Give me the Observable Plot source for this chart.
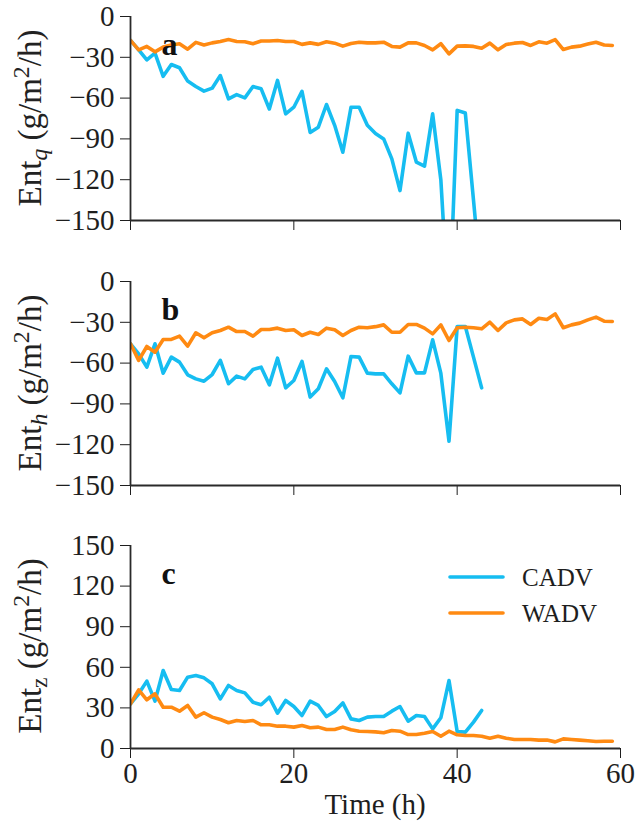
<!DOCTYPE html>
<html>
<head>
<meta charset="utf-8">
<script src="https://cdn.jsdelivr.net/npm/d3@7"></script>
<script src="https://cdn.jsdelivr.net/npm/@observablehq/plot@0.6"></script>
<style>
  html, body { margin: 0; padding: 0; background: #fff; }
  #chart { width: 638px; font-family: "Liberation Serif", "Times New Roman", serif; color: #222; }
  #chart svg, #chart svg text, #chart svg g { font-family: "Liberation Serif", "Times New Roman", serif !important; }
  .panel { position: relative; }
  .ylab { position: absolute; white-space: nowrap; font-size: 33px; line-height: 1;
          transform: translate(-50%, -50%) rotate(-90deg); }
  .ylab sub { font-size: 0.72em; vertical-align: -0.25em; }
  .ylab sup { font-size: 0.72em; vertical-align: 0.5em; }
  svg { display: block; }
</style>
</head>
<body>
<div id="chart"></div>
<script>
// ---------- data ----------
const hoursCADV = [0,1,2,3,4,5,6,7,8,9,10,11,12,13,14,15,16,17,18,19,20,21,22,23,24,25,26,27,28,29,30,31,32,33,34,35,36,37,38,39,40,41,42,43];
const hoursWADV = [0,1,2,3,4,5,6,7,8,9,10,11,12,13,14,15,16,17,18,19,20,21,22,23,24,25,26,27,28,29,30,31,32,33,34,35,36,37,38,39,40,41,42,43,44,45,46,47,48,49,50,51,52,53,54,55,56,57,58,59];

// Panel a: Ent_q
const entqCADV = [-17.6,-24.5,-31.9,-27,-44,-35.3,-37.7,-47.5,-51.5,-54.9,-52.7,-43.4,-60.5,-57.4,-59.8,-51.5,-53.2,-68,-47,-71.6,-66.7,-55,-85.3,-81.4,-64.7,-80,-99.8,-66.7,-66.7,-80,-86,-90,-104.7,-128,-85.8,-107,-110,-71.6,-120,-222,-69,-71,-135,-200];
const entqWADV = [-17.6,-24.5,-22,-26,-22.5,-21,-20,-24,-19,-21,-19.4,-18.4,-17,-18.4,-18.6,-20,-18,-18,-17.6,-18.4,-18.4,-20.5,-19.4,-20.5,-18.6,-19.6,-21.8,-19.9,-18.9,-19.4,-19.4,-18.9,-22,-22.5,-19.4,-19.4,-21.3,-24.5,-20,-27.5,-21.8,-21.6,-22,-23.3,-19.6,-24.5,-20.6,-19.6,-19.1,-21.3,-18.6,-19.6,-17,-24.3,-22.5,-21.8,-20.3,-18.9,-21,-21.3];

// Panel b: Ent_h
const enthCADV = [-45.8,-53.2,-63,-45.8,-67.4,-55.6,-59.3,-68.6,-71.6,-73.3,-68.4,-58,-75.2,-69.6,-71.6,-64.7,-63,-76,-56.4,-78.2,-72.8,-58.8,-85,-78.9,-64.2,-73.5,-85.5,-55.1,-55.6,-67.4,-67.9,-67.9,-75.2,-81.9,-54.9,-67.2,-67.2,-42.9,-67.4,-117.4,-33.1,-33.1,-55.6,-78.2];
const enthWADV = [-45.8,-58,-47.8,-52,-42.6,-42.6,-40.2,-47.5,-37.7,-41.4,-37.7,-36,-33.6,-36.8,-36.8,-40.2,-35.3,-35.3,-34.3,-36,-35.5,-39.7,-37.3,-39,-34.3,-35.5,-39.7,-36,-33.6,-34,-33.2,-31.9,-37.3,-37.3,-31.6,-31.6,-34.3,-38.5,-31.9,-43.4,-34,-33.6,-34,-34.8,-29.9,-36,-30.4,-28.2,-27.5,-31.6,-27,-27.9,-23.8,-34,-31.9,-30.6,-28.2,-26.2,-29.2,-29.4];

// Panel c: Ent_z
const entzCADV = [33,40.4,49.8,35,57.6,43.6,42.9,52.7,53.9,52.2,47.8,36.7,46.6,42.9,41.1,34.2,32.3,37.9,26.1,35.5,31,24.4,35,31.8,23.6,27.3,33.7,21.9,20.7,23.2,23.6,23.6,27.6,31,20.2,24.4,23.6,14.5,22.7,50.2,12.6,12.1,19.5,28.1];
const entzWADV = [33,43.3,36,40.4,30.5,30.5,27.6,31.8,23.2,26.4,23.2,21.4,19,20.7,20,20.7,17.5,17.5,16.5,16.5,15.8,17,15.3,15.8,14,14,15.8,13.8,12.8,12.6,12.3,11.6,13.3,12.8,10.3,10.3,11.3,12.6,9.1,12.8,10.1,9.6,9.6,9.1,7.6,9.1,7.6,6.7,6.7,6.7,6.2,6.2,4.9,7.1,6.7,6.2,5.7,5.2,5.4,5.4];

const seriesNames = ["CADV", "WADV"];
const panelLetters = ["a", "b", "c"];
const xDomain = [0, 60];
const xTicks = [0, 20, 40, 60];
const yDomainNeg = [-150, 0];
const yTicksNeg = [-150, -120, -90, -60, -30, 0];
const yDomainPos = [0, 150];
const yTicksPos = [0, 30, 60, 90, 120, 150];
const xLabel = "Time (h)";

// ---------- style ----------
const BLUE = "#16BDF1";
const ORANGE = "#FF8A12";
const AXIS = "#2a2a2a";
const LW = 3.6;
const SERIF = '"Liberation Serif", "Times New Roman", serif';

function panel({height, mt, mb, yDomain, yTicks, cadv, wadv, letter, showX}) {
  return Plot.plot({
    width: 638,
    height,
    marginLeft: 130,
    marginRight: 18,
    marginTop: mt,
    marginBottom: mb,
    style: {fontFamily: SERIF, fontSize: "29px", color: "#1e1e1e", background: "#fff", overflow: "visible"},
    x: {domain: xDomain, ticks: xTicks, tickSize: 10, tickPadding: 4,
        tickFormat: showX ? (d => String(d)) : (() => ""), label: null},
    y: {domain: yDomain, ticks: yTicks, tickSize: 10, tickPadding: 6, label: null},
    marks: [
      Plot.lineY(cadv, {x: hoursCADV, y: d => d, stroke: BLUE, strokeWidth: LW, clip: true}),
      Plot.lineY(wadv, {x: hoursWADV, y: d => d, stroke: ORANGE, strokeWidth: LW, clip: true}),
      Plot.ruleX([xDomain[0]], {stroke: AXIS, strokeWidth: 1.8}),
      Plot.ruleY([yDomain[0]], {stroke: AXIS, strokeWidth: 1.8}),
      Plot.text([letter], {frameAnchor: "top-left", text: d => d, textAnchor: "start", lineAnchor: "top",
        dx: 31, dy: 16, fontSize: 32, fontWeight: "bold", fill: "#111"})
    ]
  });
}

const ns = "http://www.w3.org/2000/svg";
const chart = document.getElementById("chart");
function addPanel(cfg, labelHTML, labelTop) {
  const div = document.createElement("div");
  div.className = "panel";
  div.style.height = cfg.height + "px";
  const svg = panel(cfg);
  div.appendChild(svg);
  const lab = document.createElement("div");
  lab.className = "ylab";
  lab.innerHTML = labelHTML;
  lab.style.left = "31px";
  lab.style.top = labelTop + "px";
  div.appendChild(lab);
  chart.appendChild(div);
  return {div, svg};
}

addPanel({height: 260, mt: 16, mb: 40, yDomain: yDomainNeg, yTicks: yTicksNeg, cadv: entqCADV, wadv: entqWADV, letter: panelLetters[0], showX: false},
  'Ent<sub><i>q</i></sub> (g/m<sup>2</sup>/h)', 118);
addPanel({height: 260, mt: 21, mb: 35, yDomain: yDomainNeg, yTicks: yTicksNeg, cadv: enthCADV, wadv: enthWADV, letter: panelLetters[1], showX: false},
  'Ent<sub><i>h</i></sub> (g/m<sup>2</sup>/h)', 123);
const pc = addPanel({height: 306, mt: 25, mb: 78, yDomain: yDomainPos, yTicks: yTicksPos, cadv: entzCADV, wadv: entzWADV, letter: panelLetters[2], showX: true},
  'Ent<sub>z</sub> (g/m<sup>2</sup>/h)', 126);

// x-axis title (panel c), centred under the frame
const xt = document.createElementNS(ns, "text");
xt.setAttribute("x", (130 + 620) / 2);
xt.setAttribute("y", 294);
xt.setAttribute("text-anchor", "middle");
xt.setAttribute("style", "font-size: 29px");
xt.setAttribute("fill", "#1e1e1e");
xt.textContent = xLabel;
pc.svg.appendChild(xt);

// legend overlay (panel c)
const leg = document.createElementNS(ns, "svg");
leg.setAttribute("width", 180); leg.setAttribute("height", 80);
leg.style.position = "absolute"; leg.style.left = "448px"; leg.style.top = "40px";
[BLUE, ORANGE].forEach((c, i) => {
  const y = 17 + i * 36;
  const l = document.createElementNS(ns, "line");
  l.setAttribute("x1", 2); l.setAttribute("x2", 55); l.setAttribute("y1", y); l.setAttribute("y2", y);
  l.setAttribute("stroke", c); l.setAttribute("stroke-width", LW); l.setAttribute("stroke-linecap", "round");
  leg.appendChild(l);
  const t = document.createElementNS(ns, "text");
  t.setAttribute("x", 74); t.setAttribute("y", y + 9);
  t.setAttribute("style", "font-size: 25px");
  t.setAttribute("fill", "#1e1e1e");
  t.textContent = seriesNames[i];
  leg.appendChild(t);
});
pc.div.appendChild(leg);
</script>
</body>
</html>
